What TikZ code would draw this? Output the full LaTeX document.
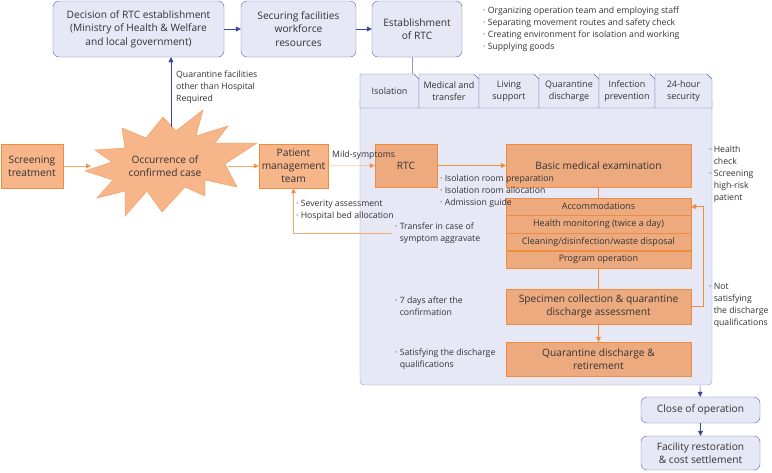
\documentclass[tikz,border=0pt]{standalone}
\usepackage{fontspec}
\setmainfont{Open Sans}
\usetikzlibrary{arrows.meta,positioning}
\definecolor{lav}{HTML}{E7E8F5}
\definecolor{bblue}{HTML}{5B64B4}
\definecolor{ablue}{HTML}{3B46A3}
\definecolor{cline}{HTML}{8F97D0}
\definecolor{ofill}{HTML}{F7B58A}
\definecolor{ofill2}{HTML}{EDAA7F}
\definecolor{oline}{HTML}{F08C3F}
\definecolor{lline}{HTML}{F5A770}
\definecolor{txt}{HTML}{333333}
\newcommand{\bul}{·\ }
\newcommand{\ind}{\phantom{·\ }}

\begin{document}
\begin{tikzpicture}[x=1pt,y=-1pt,
   bbox/.style={draw=bblue,fill=lav,rounded corners=6pt,align=center,inner sep=1pt,text=txt,font=\fontsize{10.2}{13.5}\selectfont},
   obox/.style={draw=oline,fill=ofill,align=center,inner sep=1pt,text=txt,font=\fontsize{10.2}{13}\selectfont},
   ibox/.style={obox,fill=ofill2},
   row/.style={ibox,minimum width=185pt,minimum height=17.25pt,font=\fontsize{9}{10}\selectfont},
   tab/.style={draw=bblue,fill=lav},
   tabtxt/.style={align=center,inner sep=0pt,text=txt,font=\fontsize{9}{12}\selectfont},
   note/.style={anchor=west,align=left,inner sep=0pt,text=txt,font=\fontsize{8.7}{12}\selectfont},
   barrow/.style={draw=ablue,-{Triangle[length=5pt,width=5pt]}},
   oarrow/.style={draw=oline,-{Triangle[length=5pt,width=5pt]}},
   larrow/.style={draw=lline,-{Triangle[length=5pt,width=5pt,fill=oline]}}]
   \useasboundingbox (0,0) rectangle (772,472);
   % Top
   \node[bbox,minimum width=171pt,minimum height=56pt] (dec) at (138.5,29) {Decision of RTC establishment\\(Ministry of Health \& Welfare\\and local government)};
   \node[bbox,minimum width=115pt,minimum height=56pt] (sec) at (298.5,29) {Securing facilities\\workforce\\resources};
   \node[bbox,minimum width=90pt,minimum height=56pt] (est) at (417,29) {Establishment\\of RTC};
   \draw[barrow] (dec) -- (sec);
   \draw[barrow] (sec) -- (est);
   \node[note] (org) at (483,29) {\bul Organizing operation team and employing staff\\\bul Separating movement routes and safety check\\\bul Creating environment for isolation and working\\\bul Supplying goods};
   % Container
   \draw[draw=cline,fill=lav,rounded corners=4pt] (360,100) -- (360,385) -- (712,385) -- (712,100);
   \foreach \xa/\xb/\lab [count=\i] in {360/419/Isolation, 419/479/{Medical and\\transfer}, 479/539/{Living\\support}, 539/599/{Quarantine\\discharge}, 599/655/{Infection\\prevention}, 655/712/{24-hour\\security}}{
     \draw[tab] (\xa,108) -- (\xa,74) -- ({\xb-5},74) -- (\xb,79) -- (\xb,108) -- cycle;
     \node[tabtxt] (tab\i) at ({(\xa+\xb)/2},91) {\lab};
   }
   \coordinate (tabtop) at (412,74);
   \draw[draw=cline] (est.south -| tabtop) -- (tabtop);
   % Left
   \node[obox,minimum width=62pt,minimum height=44pt] (scr) at (32,166) {Screening\\treatment};
   \draw[draw=oline!90,fill=ofill] (163,117) -- (176,131) -- (203,110) -- (196,136) -- (228,126) -- (215,143) -- (257,143) -- (225,164) -- (237,187) -- (205,180) -- (205,196) -- (185,187) -- (162,212) -- (147,191) -- (125,216) -- (125,191) -- (97,198) -- (113,180) -- (85,171) -- (112,162) -- (95,150) -- (125,148) -- (122,128) -- (146,138) -- cycle;
   \node[align=center,inner sep=0pt,text=txt,font=\fontsize{10.2}{13}\selectfont] (occ) at (165,166) {Occurrence of\\confirmed case};
   \coordinate (burstl) at (91,166);
   \coordinate (burstr) at (228,166);
   \coordinate (burstt) at (171,127);
   \node[obox,minimum width=69pt,minimum height=44pt] (pmt) at (293.5,166) {Patient\\management\\team};
   \draw[larrow] (scr) -- (burstl);
   \draw[larrow] (burstr) -- (pmt);
   \draw[barrow] (burstt) -- (burstt |- dec.south);
   \node[note] (qfac) at (176,87) {Quarantine facilities\\other than Hospital\\Required};
   \node[note] (sev) at (296,210) {\bul Severity assessment\\\bul Hospital bed allocation};
   % Inside
   \node[ibox,minimum width=62pt,minimum height=43pt] (rtc) at (406,165.5) {RTC};
   \node[ibox,minimum width=185pt,minimum height=43pt] (bme) at (598.5,165.5) {Basic medical examination};
   \node[row] (acc) at (598.5,206.6) {Accommodations};
   \node[row,below=0pt of acc] (hmon) {Health monitoring (twice a day)};
   \node[row,below=0pt of hmon] (clean) {Cleaning/disinfection/waste disposal};
   \node[row,below=0pt of clean] (prog) {Program operation};
   \node[ibox,minimum width=185pt,minimum height=35pt] (spec) at (598.5,306.5) {Specimen collection \& quarantine\\discharge assessment};
   \node[ibox,minimum width=185pt,minimum height=34pt] (qdr) at (598.5,359) {Quarantine discharge \&\\retirement};
   \draw[larrow] (pmt) -- (rtc);
   \node[note] (mild) at (332,155) {Mild-symptoms};
   \draw[oarrow] (rtc) -- (bme);
   \draw[draw=oline] (bme) -- (acc);
   \draw[draw=oline] (prog) -- (spec);
   \draw[oarrow] (spec) -- (qdr);
   \draw[oarrow] (spec.east) -- ++(12,0) |- (acc.east);
   \coordinate (trf) at (392,233);
   \draw[larrow] (trf) -| (pmt.south);
   \node[note] (rtcn) at (440,191) {\bul Isolation room preparation\\\bul Isolation room allocation\\\bul Admission guide};
   \node[note] (trn) at (395,233) {\bul Transfer in case of\\\ind symptom aggravate};
   \node[note] (days) at (395,306) {\bul 7 days after the\\\ind confirmation};
   \node[note] (sat) at (395,359) {\bul Satisfying the discharge\\\ind qualifications};
   % Right
   \node[note] (hck) at (709,174) {\bul Health\\\ind check\\\bul Screening\\\ind high-risk\\\ind patient};
   \node[note] (nsat) at (709,305) {\bul Not\\\ind satisfying\\\ind the discharge\\\ind qualifications};
   \coordinate (contb) at (700,385);
   \node[bbox,minimum width=119pt,minimum height=26pt] (cls) at (700.5,410) {Close of operation};
   \node[bbox,minimum width=119pt,minimum height=34pt] (fac) at (700.5,453) {Facility restoration\\\& cost settlement};
   \draw[barrow] (contb) -- (cls);
   \draw[barrow] (cls) -- (fac);
\end{tikzpicture}
\end{document}
